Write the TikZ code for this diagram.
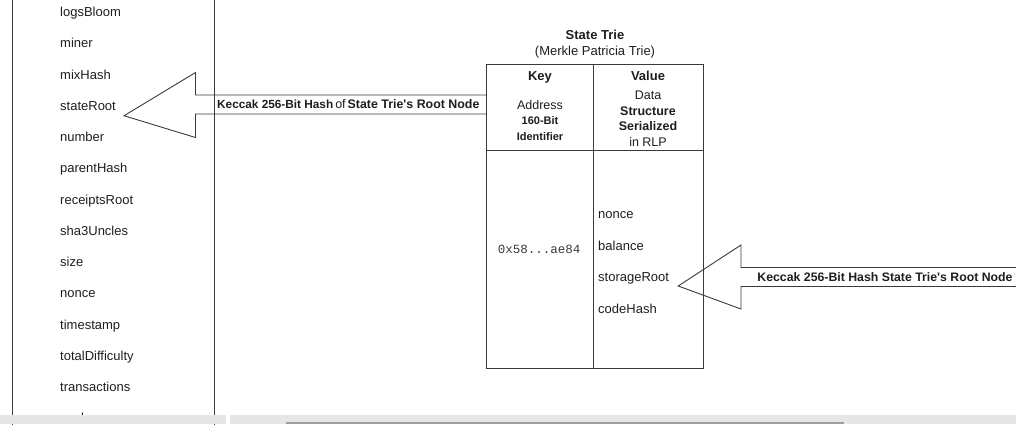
\documentclass[tikz,border=0pt]{standalone}
\usepackage{fontspec}
\setmainfont{Liberation Sans}[Ligatures=TeXOff]
\setmonofont{Liberation Mono}
\definecolor{ln}{HTML}{3A3A3A}
\definecolor{tx}{HTML}{1E1E1E}
\definecolor{band}{HTML}{E6E6E6}
\definecolor{bar}{HTML}{9E9E9E}
\begin{document}
\begin{tikzpicture}[x=1pt,y=-1pt,
  edge/.style={draw=ln, line width=0.9pt},
  lbl/.style={anchor=base west, font=\fontsize{13}{15}\selectfont, text=tx, inner sep=0pt},
  ctr/.style={anchor=base, text=tx, inner sep=0pt},
  hashtxt/.style={anchor=center, text=tx, inner sep=0pt, font=\fontsize{11.8}{13}\selectfont\bfseries}]
\useasboundingbox (0,0) rectangle (1016,424);
\clip (0,0) rectangle (1016,424);

% left block header box
\node[edge, minimum width=202pt, minimum height=440pt, inner sep=0pt, anchor=north west] (hdr) at (12,-10) {};

% left labels
\foreach \t [count=\i from 0] in {logsBloom,miner,mixHash,stateRoot,number,parentHash,receiptsRoot,sha3Uncles,size,nonce,timestamp,totalDifficulty,transactions,uncles}
  \node[lbl] (f\i) at (60,{16.5+31.25*\i}) {\t};

% state trie table
\node[ctr, font=\fontsize{13}{15}\selectfont\bfseries] (ttl) at (595,39) {State Trie};
\node[ctr, font=\fontsize{13}{15}\selectfont] (sub) at (595,55) {(Merkle Patricia Trie)};
\node[edge, minimum width=217pt, minimum height=304pt, inner sep=0pt, anchor=north west] (trie) at (486,64) {};
\coordinate (midtop) at (593,64);
\coordinate (sep) at (486,150.5);
\draw[edge] (midtop) -- (midtop |- trie.south);
\draw[edge] (sep) -- (sep -| trie.east);

\node[ctr, font=\fontsize{13}{15}\selectfont\bfseries] (key) at (540,80) {Key};
\node[ctr, font=\fontsize{12.5}{15}\selectfont] (addr) at (540,109) {Address};
\node[ctr, font=\fontsize{11}{13}\selectfont\bfseries] (bits) at (540,124) {160-Bit};
\node[ctr, font=\fontsize{11}{13}\selectfont\bfseries] (ident) at (540,140) {Identifier};

\node[ctr, font=\fontsize{13}{15}\selectfont\bfseries] (val) at (648,80) {Value};
\node[ctr, font=\fontsize{12.5}{15}\selectfont] (data) at (648,99.5) {Data};
\node[ctr, font=\fontsize{12.5}{15}\selectfont\bfseries] (struct) at (648,115) {Structure};
\node[ctr, font=\fontsize{12.5}{15}\selectfont\bfseries] (ser) at (648,130.5) {Serialized};
\node[ctr, font=\fontsize{12.5}{15}\selectfont] (rlp) at (648,146) {in RLP};

\node[ctr, font=\fontsize{12.5}{15}\ttfamily, text=ln] (addrv) at (539,253) {0x58...ae84};
\foreach \t/\y/\n in {nonce/218.5/vn, balance/250/vb, storageRoot/281.5/vs, codeHash/313/vc}
  \node[lbl] (\n) at (598,\y) {\t};

% left block arrow: from trie to stateRoot
\coordinate (la1) at (trie.west |- 0,95);
\coordinate (la2) at (trie.west |- 0,114);
\draw[edge, line join=miter] (la1) -- (195.5,95) -- (195.5,72.5) -- ([xshift=8pt,yshift=-5.5pt]f3.base east) -- (195.5,137.5) -- (195.5,114) -- (la2);
\node[hashtxt, anchor=west] (lh) at (217,104.5) {Keccak 256-Bit Hash\,{\mdseries\fontsize{12.5}{14}\selectfont of}\,{\fontsize{12.4}{14}\selectfont State Trie's Root Node}};

% right block arrow: to storageRoot
\coordinate (ra1) at (1020,267.5);
\coordinate (ra2) at (1020,286.5);
\draw[edge, line join=miter] (ra1) -- (741,267.5) -- (741,245) -- ([xshift=9pt,yshift=-4.5pt]vs.base east) -- (741,309) -- (741,286.5) -- (ra2);
\node[hashtxt, font=\fontsize{12.3}{14}\selectfont\bfseries] (rh) at (885,277) {Keccak 256-Bit Hash State Trie's Root Node};

% bottom scroll band
\fill[band] (0,415) rectangle (226,424);
\fill[band] (230,415) rectangle (1016,424);
\fill[bar] (286,421.5) rectangle (844,424);
\end{tikzpicture}
\end{document}
